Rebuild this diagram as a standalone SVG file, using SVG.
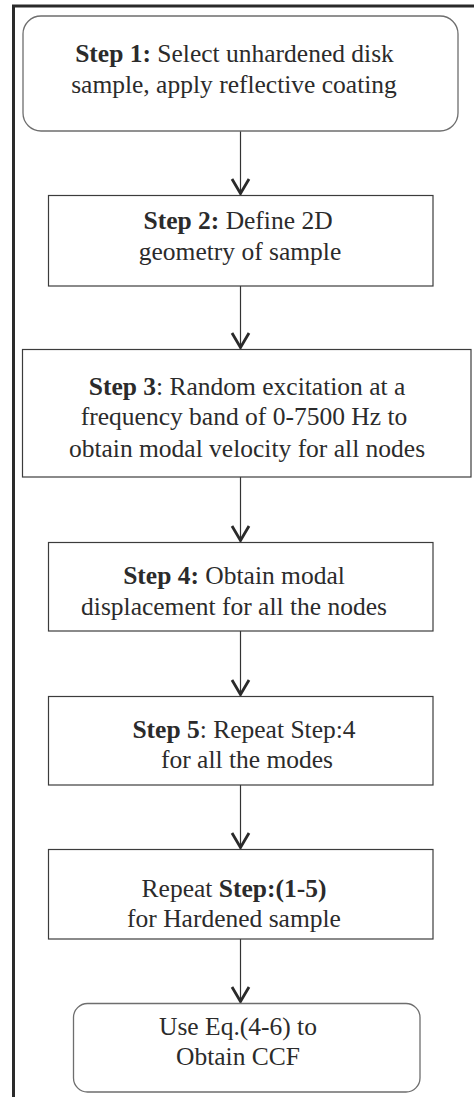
<svg xmlns="http://www.w3.org/2000/svg" width="474" height="1097" viewBox="0 0 474 1097">
<style>
.frame{stroke:#2a2a2a;stroke-width:3;fill:none}
.rbox{fill:#fff;stroke:#6e6e6e;stroke-width:1.3}
.box{fill:#fff;stroke:#3c3c3c;stroke-width:1.2}
.t{font-family:'Liberation Serif','Times New Roman',serif;font-size:25.5px;fill:#2b2b2b;text-anchor:middle}
.b{font-weight:bold}
.conn{stroke:#333;stroke-width:1.2;fill:none}
</style>
<defs>
<marker id="arr" viewBox="-20 -11 22 22" refX="0" refY="0" markerWidth="22" markerHeight="22" markerUnits="userSpaceOnUse" orient="auto">
<path d="M-16,-8.5 L-1.5,0 L-16,8.5" fill="none" stroke="#2a2a2a" stroke-width="2.8"/>
</marker>
</defs>
<rect width="474" height="1097" fill="#fff"/>
<g id="frame">
<line class="frame" x1="12" y1="6" x2="474" y2="6"/>
<line class="frame" x1="13.5" y1="5" x2="13.5" y2="1097"/>
</g>
<g id="connectors">
<line class="conn" x1="240.5" y1="131" x2="240.5" y2="195" marker-end="url(#arr)"/>
<line class="conn" x1="240.5" y1="286" x2="240.5" y2="349" marker-end="url(#arr)"/>
<line class="conn" x1="240.5" y1="477" x2="240.5" y2="542" marker-end="url(#arr)"/>
<line class="conn" x1="240.5" y1="631" x2="240.5" y2="696" marker-end="url(#arr)"/>
<line class="conn" x1="240.5" y1="785" x2="240.5" y2="849" marker-end="url(#arr)"/>
<line class="conn" x1="240.5" y1="939" x2="240.5" y2="1003" marker-end="url(#arr)"/>
</g>
<g id="step1">
<rect class="rbox" x="23" y="16" width="435" height="115" rx="18"/>
<text class="t" x="234.5" y="62"><tspan class="b">Step 1:</tspan> Select unhardened disk</text>
<text class="t" x="234" y="93">sample, apply reflective coating</text>
</g>
<g id="step2">
<rect class="box" x="48.5" y="195.5" width="384.5" height="90.5"/>
<text class="t" x="238" y="229"><tspan class="b">Step 2:</tspan> Define 2D</text>
<text class="t" x="240" y="260">geometry of sample</text>
</g>
<g id="step3">
<rect class="box" x="22.5" y="349.5" width="448.5" height="127.5"/>
<text class="t" x="247" y="395"><tspan class="b">Step 3</tspan>: Random excitation at a</text>
<text class="t" x="244" y="425">frequency band of 0-7500 Hz to</text>
<text class="t" x="247" y="457">obtain modal velocity for all nodes</text>
</g>
<g id="step4">
<rect class="box" x="48.5" y="542.5" width="384.5" height="88.5"/>
<text class="t" x="234" y="584"><tspan class="b">Step 4:</tspan> Obtain modal</text>
<text class="t" x="234" y="615">displacement for all the nodes</text>
</g>
<g id="step5">
<rect class="box" x="48.5" y="696.5" width="384.5" height="88.5"/>
<text class="t" x="244" y="738"><tspan class="b">Step 5</tspan>: Repeat Step:4</text>
<text class="t" x="247" y="768">for all the modes</text>
</g>
<g id="step6">
<rect class="box" x="48.5" y="849.5" width="384.5" height="89.5"/>
<text class="t" x="234" y="897">Repeat <tspan class="b">Step:(1-5)</tspan></text>
<text class="t" x="234" y="927">for Hardened sample</text>
</g>
<g id="step7">
<rect class="rbox" x="73.5" y="1003.5" width="346.5" height="88.5" rx="14"/>
<text class="t" x="238" y="1035">Use Eq.(4-6) to</text>
<text class="t" x="238" y="1065">Obtain CCF</text>
</g>
</svg>
